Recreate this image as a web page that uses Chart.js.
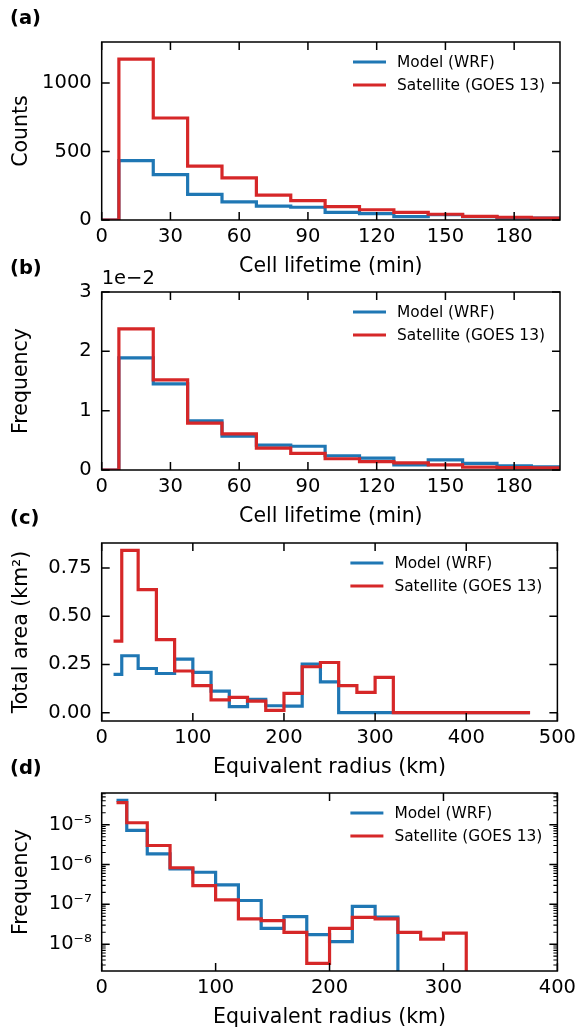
<!DOCTYPE html>
<html>
<head>
<meta charset="utf-8">
<script src="https://cdn.jsdelivr.net/npm/chart.js@4.4.1/dist/chart.umd.min.js"></script>
<style>
  body { margin: 0; background: #fff; }
  #page { position: relative; width: 581px; height: 1031px; overflow: hidden; font-family: "DejaVu Sans", sans-serif; }
  #page canvas { position: absolute; left: 0; }
  .tag { position: absolute; left: 10px; font-weight: bold; font-size: 19.5px; line-height: 24px; }
</style>
</head>
<body>
<div id="page">
  <canvas id="pa" width="581" height="285" style="top:0px"></canvas>
  <canvas id="pb" width="581" height="285" style="top:250px"></canvas>
  <canvas id="pc" width="581" height="285" style="top:501px"></canvas>
  <canvas id="pd" width="581" height="285" style="top:751px"></canvas>
  <div class="tag" style="top:6px">(a)</div>
  <div class="tag" style="top:256px">(b)</div>
  <div class="tag" style="top:506px">(c)</div>
  <div class="tag" style="top:756px">(d)</div>
</div>
<script>
const BLUE = "#1f77b4";
const RED = "#d62728";
const FONT = '"DejaVu Sans", sans-serif';
const seriesLabels = ["Model (WRF)", "Satellite (GOES 13)"];

// (a),(b) cell lifetime, 15 min bins: each value holds from its edge to the next,
// last entry just closes the final bin
const lifeEdges = [-7.5, 7.5, 22.5, 37.5, 52.5, 67.5, 82.5, 97.5, 112.5, 127.5, 142.5, 157.5, 172.5, 187.5, 202.5];
const lifeCountWRF = [0, 434, 332, 187, 133, 102, 93, 56, 46, 24, 39, 25, 16, 13, 13];
const lifeCountGOES = [0, 1175, 745, 393, 308, 182, 141, 97, 75, 56, 42, 26, 20, 14, 14];
const lifeFreqWRF = [0, 0.0189, 0.0145, 0.0083, 0.0057, 0.0042, 0.0040, 0.0024, 0.0020, 0.00085, 0.0017, 0.0011, 0.0007, 0.00055, 0.00055];
const lifeFreqGOES = [0, 0.0238, 0.0152, 0.0079, 0.0061, 0.0037, 0.0028, 0.0019, 0.0014, 0.0012, 0.00085, 0.0005, 0.0004, 0.00035, 0.00035];

// (c),(d) equivalent radius bins (km)
const radiusEdges = [13, 22, 40, 60, 80, 100, 120, 140, 160, 180, 200, 220, 240, 260, 280, 300, 320, 340, 360, 380, 400, 420, 440, 460, 470];
const areaWRF = [0.198, 0.295, 0.229, 0.203, 0.278, 0.209, 0.112, 0.031, 0.069, 0.036, 0.034, 0.252, 0.160, 0, 0, 0, 0, 0, 0, 0, 0, 0, 0, 0, 0];
const areaGOES = [0.371, 0.841, 0.638, 0.379, 0.216, 0.140, 0.066, 0.079, 0.060, 0.012, 0.100, 0.238, 0.260, 0.140, 0.105, 0.183, 0, 0, 0, 0, 0, 0, 0, 0, 0];
const radFreqWRF = [4.1e-5, 7.2e-6, 1.86e-6, 7.8e-7, 6.4e-7, 3.1e-7, 1.25e-7, 2.5e-8, 4.9e-8, 1.74e-8, 1.16e-8, 8.9e-8, 4.8e-8, 0, 0, 0, 0, 0, 0, 0, 0, 0, 0, 0, 0];
const radFreqGOES = [3.6e-5, 1.12e-5, 3.0e-6, 8.3e-7, 2.96e-7, 1.29e-7, 4.3e-8, 3.9e-8, 1.97e-8, 3.3e-9, 2.48e-8, 4.7e-8, 4.3e-8, 1.97e-8, 1.34e-8, 1.9e-8, 0, 0, 0, 0, 0, 0, 0, 0, 0];

// ticks
const lifeTicks = [0, 30, 60, 90, 120, 150, 180];
const countTicks = [0, 500, 1000];
const freqTicks = [0, 0.01, 0.02, 0.03];
const freqTickLabels = ["0", "1", "2", "3"];
const radiusTicksC = [0, 100, 200, 300, 400, 500];
const areaTicks = [0, 0.25, 0.5, 0.75];
const areaTickLabels = ["0.00", "0.25", "0.50", "0.75"];
const radiusTicksD = [0, 100, 200, 300, 400];
const logTicks = [1e-8, 1e-7, 1e-6, 1e-5];
const logTickLabels = ["10\u207B\u2078", "10\u207B\u2077", "10\u207B\u2076", "10\u207B\u2075"];

function stepPoints(edges, values, floor) {
  let last = values.length - 1;
  if (floor !== undefined) {
    // log axis: empty bins drop to the floor, keep only the first drop
    while (last > 0 && values[last - 1] === 0) last--;
  }
  const pts = [];
  for (let i = 0; i <= last; i++) {
    let y = values[i];
    if (floor !== undefined && y <= 0) y = floor;
    pts.push({ x: edges[i], y: y });
  }
  return pts;
}

function logMinorTicks(min, max) {
  const out = [];
  for (let e = Math.floor(Math.log10(min)); e <= Math.ceil(Math.log10(max)); e++) {
    for (let m = 1; m < 10; m++) {
      const v = m * Math.pow(10, e);
      if (v >= min && v <= max) out.push({ value: v, minor: m !== 1 });
    }
  }
  return out;
}

// box + inward ticks on all four sides
const framePlugin = {
  id: "frame",
  afterDatasetsDraw(chart) {
    const { ctx, chartArea: a } = chart;
    ctx.save();
    ctx.strokeStyle = "#000";
    Object.values(chart.scales).forEach(s => {
      s.ticks.forEach(t => {
        const len = t.minor ? 4 : 8;
        ctx.lineWidth = t.minor ? 1.1 : 1.5;
        const p = s.getPixelForValue(t.value);
        ctx.beginPath();
        if (s.isHorizontal()) {
          if (p < a.left - 0.5 || p > a.right + 0.5) return;
          ctx.moveTo(p, a.bottom); ctx.lineTo(p, a.bottom - len);
          ctx.moveTo(p, a.top); ctx.lineTo(p, a.top + len);
        } else {
          if (p < a.top - 0.5 || p > a.bottom + 0.5) return;
          ctx.moveTo(a.left, p); ctx.lineTo(a.left + len, p);
          ctx.moveTo(a.right, p); ctx.lineTo(a.right - len, p);
        }
        ctx.stroke();
      });
    });
    ctx.lineWidth = 1.5;
    ctx.strokeRect(a.left, a.top, a.right - a.left, a.bottom - a.top);
    ctx.restore();
  }
};

const legendPlugin = {
  id: "innerLegend",
  afterDatasetsDraw(chart) {
    const { ctx, chartArea: a } = chart;
    ctx.save();
    ctx.font = "15.4px " + FONT;
    ctx.textBaseline = "middle";
    ctx.textAlign = "left";
    chart.data.datasets.forEach((ds, i) => {
      const y = a.top + 20 + i * 23;
      ctx.strokeStyle = ds.borderColor;
      ctx.lineWidth = 3.2;
      ctx.beginPath();
      ctx.moveTo(a.right - 207, y);
      ctx.lineTo(a.right - 174, y);
      ctx.stroke();
      ctx.fillStyle = "#000";
      ctx.fillText(ds.label, a.right - 163, y + 1);
    });
    ctx.restore();
  }
};

function offsetPlugin(text) {
  return {
    id: "offsetText",
    afterDraw(chart) {
      if (!text) return;
      const { ctx, chartArea: a } = chart;
      ctx.save();
      ctx.font = "19.5px " + FONT;
      ctx.fillStyle = "#000";
      ctx.textBaseline = "middle";
      ctx.fillText(text, a.left, a.top - 13);
      ctx.restore();
    }
  };
}

function panel(id, p) {
  const tickFont = { family: FONT, size: 19.5 };
  const titleFont = { family: FONT, size: 20.5 };
  const labelOf = (ticks, labels) => v => {
    const i = ticks.indexOf(v);
    return i < 0 ? "" : (labels ? labels[i] : String(v));
  };
  const line = { stepped: true, borderWidth: 3.2, pointRadius: 0, fill: false, clip: 0, borderJoinStyle: "miter" };
  return new Chart(document.getElementById(id), {
    type: "line",
    data: {
      datasets: [
        Object.assign({ label: seriesLabels[0], data: stepPoints(p.edges, p.wrf, p.floor), borderColor: BLUE, order: 1 }, line),
        Object.assign({ label: seriesLabels[1], data: stepPoints(p.edges, p.goes, p.floor), borderColor: RED, order: 0 }, line)
      ]
    },
    options: {
      responsive: false,
      animation: false,
      layout: { padding: { top: 42, right: 21, bottom: 0, left: 0 } },
      plugins: { legend: { display: false }, tooltip: { enabled: false } },
      scales: {
        x: {
          type: "linear", min: p.xMin, max: p.xMax,
          afterBuildTicks: s => { s.ticks = p.xTicks.map(v => ({ value: v })); },
          afterFit: s => { s.height = 65; },
          grid: { display: false, drawTicks: false },
          border: { display: false },
          ticks: { font: tickFont, color: "#000", padding: 5, autoSkip: false, maxRotation: 0, callback: labelOf(p.xTicks) },
          title: { display: true, text: p.xTitle, font: titleFont, color: "#000", padding: { top: 0, bottom: 6 } }
        },
        y: {
          type: p.yType, min: p.yMin, max: p.yMax,
          afterBuildTicks: s => {
            s.ticks = p.yType === "logarithmic" ? logMinorTicks(p.yMin, p.yMax) : p.yTicks.map(v => ({ value: v }));
          },
          afterFit: s => { s.width = 101.7; },
          grid: { display: false, drawTicks: false },
          border: { display: false },
          ticks: { font: tickFont, color: "#000", padding: 10, autoSkip: false, callback: labelOf(p.yTicks, p.yLabels) },
          title: { display: true, text: p.yTitle, font: titleFont, color: "#000", padding: { top: 9, bottom: 0 } }
        }
      }
    },
    plugins: [framePlugin, legendPlugin, offsetPlugin(p.offset)]
  });
}

panel("pa", {
  edges: lifeEdges, wrf: lifeCountWRF, goes: lifeCountGOES,
  xMin: 0, xMax: 200, xTicks: lifeTicks, xTitle: "Cell lifetime (min)",
  yType: "linear", yMin: 0, yMax: 1300, yTicks: countTicks, yTitle: "Counts"
});
panel("pb", {
  edges: lifeEdges, wrf: lifeFreqWRF, goes: lifeFreqGOES,
  xMin: 0, xMax: 200, xTicks: lifeTicks, xTitle: "Cell lifetime (min)",
  yType: "linear", yMin: 0, yMax: 0.03, yTicks: freqTicks, yLabels: freqTickLabels, yTitle: "Frequency",
  offset: "1e\u22122"
});
panel("pc", {
  edges: radiusEdges, wrf: areaWRF, goes: areaGOES,
  xMin: 0, xMax: 500, xTicks: radiusTicksC, xTitle: "Equivalent radius (km)",
  yType: "linear", yMin: -0.043, yMax: 0.879, yTicks: areaTicks, yLabels: areaTickLabels, yTitle: "Total area (km\u00B2)"
});
panel("pd", {
  edges: radiusEdges, wrf: radFreqWRF, goes: radFreqGOES, floor: 2.12e-9,
  xMin: 0, xMax: 400, xTicks: radiusTicksD, xTitle: "Equivalent radius (km)",
  yType: "logarithmic", yMin: 2.12e-9, yMax: 6.25e-5, yTicks: logTicks, yLabels: logTickLabels, yTitle: "Frequency"
});
</script>
</body>
</html>
